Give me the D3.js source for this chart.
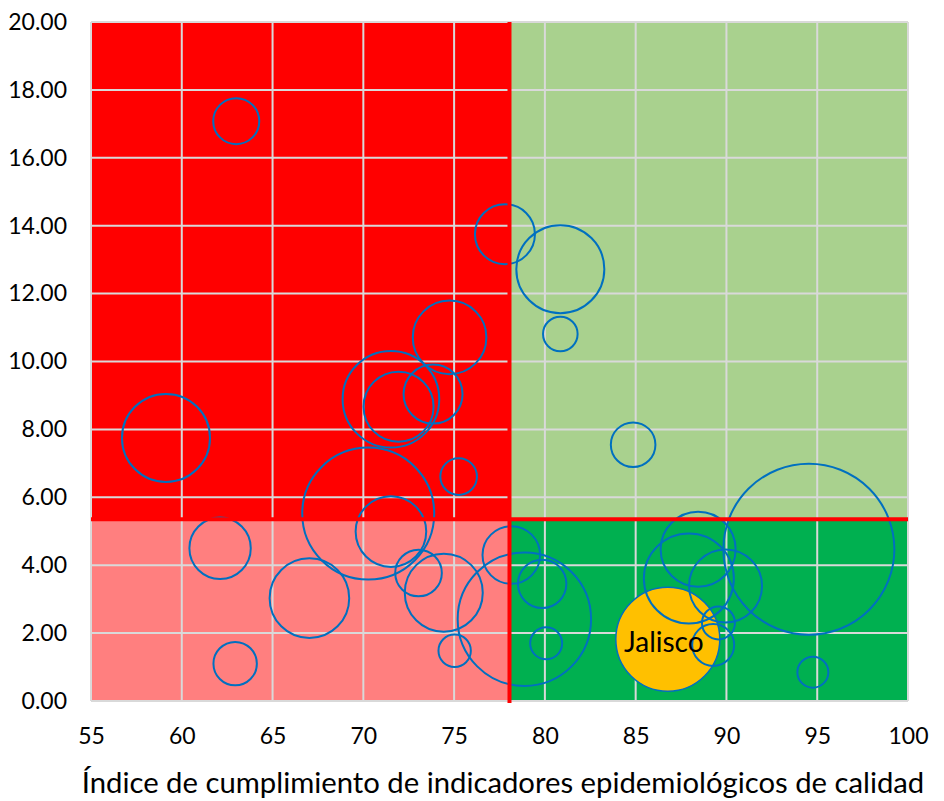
<!DOCTYPE html>
<html>
<head>
<meta charset="utf-8">
<script src="https://cdn.jsdelivr.net/npm/d3@7"></script>
<style>
  body { margin: 0; background: #fff; }
  text { font-family: Lato, "Noto Sans", sans-serif; fill: #000; }
</style>
</head>
<body>
<svg id="chart" width="944" height="801"></svg>
<script>

// valores
var indice = [63.0, 77.8, 80.85, 80.85, 74.75, 71.52, 71.94, 73.84, 75.25, 70.27,
  59.13, 62.11, 62.94, 67.03, 71.52, 73.04, 74.43, 75.03, 78.15, 78.87,
  79.85, 80.07, 86.77, 88.44, 87.93, 89.95, 89.56, 89.27, 94.54, 94.76, 84.86];
var valorY = [17.08, 13.75, 12.72, 10.81, 10.71, 8.89, 8.67, 9.04, 6.61, 5.52,
  7.75, 4.5, 1.1, 3.03, 4.99, 3.77, 3.19, 1.48, 4.3, 2.41,
  3.45, 1.7, 1.82, 4.47, 3.61, 3.39, 2.30, 1.65, 4.47, 0.85, 7.55];
var tamano = [5.29, 9.0, 19.36, 2.99, 13.54, 23.33, 12.25, 8.70, 3.35, 43.56,
  19.36, 9.42, 4.71, 15.84, 12.46, 5.43, 15.21, 2.62, 8.29, 44.49,
  5.86, 2.56, 27.04, 14.06, 20.25, 13.32, 2.72, 4.41, 73.1, 2.40, 4.97];
var etiqueta = ["", "", "", "", "", "", "", "", "", "",
  "", "", "", "", "", "", "", "", "", "",
  "", "", "Jalisco", "", "", "", "", "", "", "", ""];

var xTicks = [55, 60, 65, 70, 75, 80, 85, 90, 95, 100];
var yTicks = [0, 2, 4, 6, 8, 10, 12, 14, 16, 18, 20];

// cortes de los cuadrantes
var corteX = 78.05;
var corteY = 5.35;

var tituloX = "Índice de cumplimiento de indicadores epidemiológicos de calidad";

var svg = d3.select("#chart");

var x = d3.scaleLinear().domain([55, 100]).range([91, 908]);
var y = d3.scaleLinear().domain([0, 20]).range([701, 22]);
var r = d3.scaleSqrt().domain([0, 100]).range([0, 100]);

// fondo de cuadrantes
var cuadrantes = [
  { x0: 55, x1: corteX, y0: corteY, y1: 20, color: "#FF0000" },
  { x0: corteX, x1: 100, y0: corteY, y1: 20, color: "#A9D18E" },
  { x0: 55, x1: corteX, y0: 0, y1: corteY, color: "#FF7F7F" },
  { x0: corteX, x1: 100, y0: 0, y1: corteY, color: "#00B050" }
];
svg.append("g")
  .selectAll("rect")
  .data(cuadrantes)
  .enter()
  .append("rect")
  .attr("x", function (d) { return x(d.x0); })
  .attr("y", function (d) { return y(d.y1); })
  .attr("width", function (d) { return x(d.x1) - x(d.x0); })
  .attr("height", function (d) { return y(d.y0) - y(d.y1); })
  .style("fill", function (d) { return d.color; });

// lineas de cuadricula
var grid = svg.append("g").attr("stroke", "#D9D9D9").attr("stroke-width", 2);
grid.selectAll(".gx")
  .data(xTicks)
  .enter()
  .append("line")
  .attr("x1", function (d) { return x(d); })
  .attr("x2", function (d) { return x(d); })
  .attr("y1", y(20))
  .attr("y2", y(0));
grid.selectAll(".gy")
  .data(yTicks)
  .enter()
  .append("line")
  .attr("x1", x(55))
  .attr("x2", x(100))
  .attr("y1", function (d) { return y(d); })
  .attr("y2", function (d) { return y(d); });

// burbujas, las grandes primero
var datos = indice.map(function (v, i) {
  return { x: v, y: valorY[i], s: tamano[i], nombre: etiqueta[i] };
});
datos.sort(function (a, b) { return b.s - a.s; });

svg.append("g")
  .selectAll("circle")
  .data(datos)
  .enter()
  .append("circle")
  .attr("cx", function (d) { return x(d.x); })
  .attr("cy", function (d) { return y(d.y); })
  .attr("r", function (d) { return r(d.s); })
  .style("fill", function (d) { return d.nombre ? "#FFC000" : "none"; })
  .style("stroke", "#0070C0")
  .style("stroke-width", function (d) { return d.nombre ? 1.5 : 2; });

// lineas rojas de corte
svg.append("line")
  .attr("x1", x(corteX)).attr("x2", x(corteX))
  .attr("y1", y(20)).attr("y2", y(0) + 2)
  .attr("stroke", "#FF0000").attr("stroke-width", 4);
svg.append("line")
  .attr("x1", x(55)).attr("x2", x(100))
  .attr("y1", y(corteY)).attr("y2", y(corteY))
  .attr("stroke", "#FF0000").attr("stroke-width", 4);

// etiqueta de Jalisco
svg.append("g")
  .selectAll("text")
  .data(datos.filter(function (d) { return d.nombre; }))
  .enter()
  .append("text")
  .attr("x", function (d) { return x(d.x) - 4; })
  .attr("y", function (d) { return y(d.y); })
  .attr("dy", "0.44em")
  .attr("text-anchor", "middle")
  .style("font-size", "28px")
  .text(function (d) { return d.nombre; });

// ejes
var ejeX = svg.append("g")
  .attr("transform", "translate(0," + y(0) + ")")
  .call(d3.axisBottom(x).tickValues(xTicks).tickSize(0).tickPadding(27));
var ejeY = svg.append("g")
  .attr("transform", "translate(" + x(55) + ",0)")
  .call(d3.axisLeft(y).tickValues(yTicks).tickSize(0).tickPadding(24)
    .tickFormat(d3.format(".2f")));
[ejeX, ejeY].forEach(function (g) {
  g.select(".domain").remove();
  g.selectAll("text")
    .style("font-family", "Lato, 'Noto Sans', sans-serif")
    .style("font-size", "23px")
    .style("fill", "#000");
});

// titulo del eje x, ajustado al ancho
var titulo = svg.append("text")
  .attr("x", 503)
  .attr("y", 793)
  .attr("text-anchor", "middle")
  .style("font-size", "27px")
  .text(tituloX);
var largo = titulo.node().getComputedTextLength();
titulo.style("font-size", (27 * 843 / largo) + "px");

</script>
</body>
</html>
